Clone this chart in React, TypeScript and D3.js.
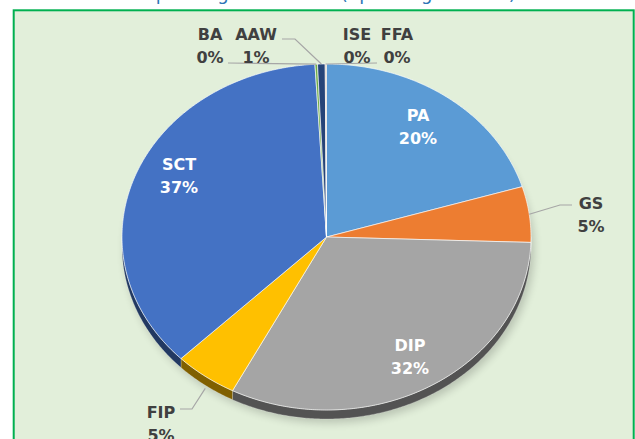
import React from "react";
import * as d3 from "d3";

const categories = ["PA", "GS", "DIP", "FIP", "SCT", "BA", "AAW", "ISE", "FFA"];
const values = [20.3, 5.2, 32.1, 5.0, 36.5, 0.2, 0.6, 0.05, 0.05];
const colors = ["#5B9BD5", "#ED7D31", "#A5A5A5", "#FFC000", "#4472C4", "#70AD47", "#264478", "#9E480E", "#636363"];
const title = "Spending Breakdown (Spending Amount)";

const W = 635;
const H = 439;
const cx = 326.5;
const cy = 237;
const rx = 204.5;
const ry = 173;
const depth = 9;

type LabelLayout = { x: number; y: number; inside: boolean; leader?: [number, number][]; endDy?: number };
const labelLayout: Record<string, LabelLayout> = {
  PA: { x: 418, y: 115, inside: true },
  SCT: { x: 179, y: 164, inside: true },
  DIP: { x: 410, y: 345, inside: true },
  GS: { x: 591, y: 203, inside: false, leader: [[572, 205], [560, 205]] },
  FIP: { x: 161, y: 412, inside: false, leader: [[180, 409], [192, 409]], endDy: 12 },
  BA: { x: 210, y: 34, inside: false, leader: [[228, 63]] },
  AAW: { x: 256, y: 34, inside: false, leader: [[282, 39], [295, 39]] },
  ISE: { x: 357, y: 34, inside: false, leader: [[377, 63]] },
  FFA: { x: 397, y: 34, inside: false },
};

function pt(a: number, dy = 0): [number, number] {
  return [cx + rx * Math.sin(a), cy - ry * Math.cos(a) + dy];
}
function arcPts(a0: number, a1: number, dy = 0): [number, number][] {
  const n = Math.max(2, Math.ceil((a1 - a0) / 0.01));
  return d3.range(n + 1).map((i) => pt(a0 + ((a1 - a0) * i) / n, dy));
}

export default function App() {
  const arcs = d3.pie<number>().sort(null).value((d) => d).startAngle(0).endAngle(2 * Math.PI)(values);
  const total = d3.sum(values);
  const line = d3.line();
  const font = "'DejaVu Sans', sans-serif";

  const sides = arcs
    .map((a, i) => {
      const s = Math.max(a.startAngle, Math.PI / 2);
      const e = Math.min(a.endAngle, (3 * Math.PI) / 2);
      if (s >= e) return null;
      const top = arcPts(s, e);
      const bot = arcPts(s, e, depth).reverse();
      const c = d3.rgb(colors[i]);
      const dark = d3.rgb(c.r * 0.5, c.g * 0.5, c.b * 0.5).toString();
      return <path key={"s" + i} d={line([...top, ...bot])! + "Z"} fill={dark} stroke="#ffffff" strokeOpacity={0.4} strokeWidth={0.6} />;
    })
    .filter(Boolean);

  return (
    <svg width={W} height={H} style={{ position: "absolute", left: 0, top: 0 }} xmlns="http://www.w3.org/2000/svg">
      <defs>
        <filter id="blur" x="-20%" y="-20%" width="140%" height="140%">
          <feGaussianBlur stdDeviation="4" />
        </filter>
      </defs>
      <rect x={0} y={0} width={W} height={H} fill="#ffffff" />
      <text x={330} y={-0.5} textAnchor="middle" fontFamily={font} fontSize={18} fill="#2E75B6">
        {title}
      </text>
      <rect x={13.7} y={10.3} width={620} height={440} fill="#E2EFDA" stroke="#00B050" strokeWidth={2} />
      <ellipse cx={cx + 3} cy={cy + depth + 4} rx={rx} ry={ry} fill="#000" opacity={0.18} filter="url(#blur)" />
      {sides}
      {arcs.map((a, i) => {
        const pts = [[cx, cy] as [number, number], ...arcPts(a.startAngle, a.endAngle)];
        return <path key={"t" + i} d={line(pts)! + "Z"} fill={colors[i]} stroke="#ffffff" strokeOpacity={0.8} strokeWidth={0.8} strokeLinejoin="round" />;
      })}
      {arcs.map((a, i) => {
        const L = labelLayout[categories[i]];
        if (!L.leader) return null;
        const mid = (a.startAngle + a.endAngle) / 2;
        const end = pt(mid, L.endDy ?? 0);
        return <path key={"l" + i} d={line([...L.leader, end])!} fill="none" stroke="#A6A6A6" strokeWidth={1.2} />;
      })}
      {arcs.map((a, i) => {
        const L = labelLayout[categories[i]];
        const pct = Math.round((values[i] / total) * 100) + "%";
        const fill = L.inside ? "#ffffff" : "#404040";
        return (
          <g key={"x" + i} fontFamily={font} fontWeight="bold" fontSize={16} fill={fill} textAnchor="middle">
            <text x={L.x} y={L.y} dominantBaseline="central">{categories[i]}</text>
            <text x={L.x} y={L.y + 23} dominantBaseline="central">{pct}</text>
          </g>
        );
      })}
    </svg>
  );
}
